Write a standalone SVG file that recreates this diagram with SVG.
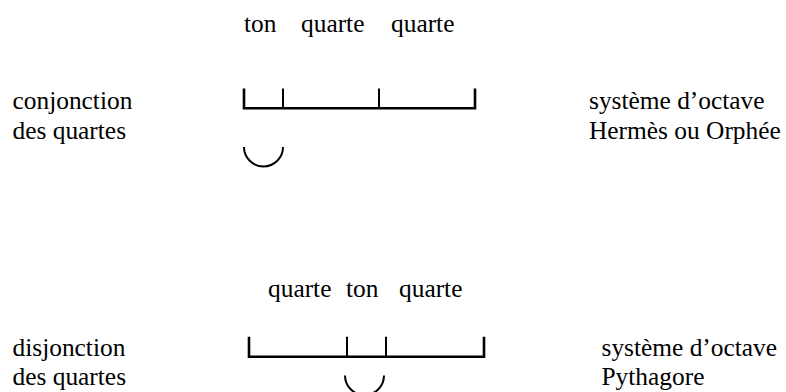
<svg xmlns="http://www.w3.org/2000/svg" width="786" height="392" viewBox="0 0 786 392">
<style>
.t{font-family:'Liberation Serif',Tinos,'DejaVu Serif',serif;font-size:25.4px;fill:#000}
.bar{fill:none;stroke:#000;stroke-width:2.6;stroke-linecap:butt;stroke-linejoin:miter}
.tick{fill:none;stroke:#000;stroke-width:2}
.arc{fill:none;stroke:#000;stroke-width:2}
</style>
<rect width="786" height="392" fill="#fff"/>
<g id="conjonction" class="t" font-family="Liberation Serif, serif">
<g id="conj-left"><text x="12.5" y="108.5">conjonction</text><text x="12.5" y="138.5">des quartes</text></g>
<g id="conj-labels"><text x="244" y="31.5">ton</text><text x="301" y="31.5">quarte</text><text x="391" y="31.5">quarte</text></g>
<g id="conj-bar"><path class="bar" d="M244 88.5V108.3H475V88.5"/><path class="tick" d="M283 88.5V108M379 88.5V108"/></g>
<g id="conj-arc"><path class="arc" d="M244 147A19.5 19.5 0 0 0 283 147"/></g>
<g id="conj-right"><text x="589" y="108.8">système d’octave</text><text x="589" y="138.5">Hermès ou Orphée</text></g>
</g>
<g id="disjonction" class="t" font-family="Liberation Serif, serif">
<g id="disj-left"><text x="12.5" y="356">disjonction</text><text x="12.5" y="384.5">des quartes</text></g>
<g id="disj-labels"><text x="268" y="297">quarte</text><text x="346" y="297">ton</text><text x="399" y="297">quarte</text></g>
<g id="disj-bar"><path class="bar" d="M249 336.7V356.7H484V336.7"/><path class="tick" d="M347 336.7V356.5M386 336.7V356.5"/></g>
<g id="disj-arc"><path class="arc" d="M345 375.5A19.5 19.5 0 0 0 384 375.5"/></g>
<g id="disj-right"><text x="601.5" y="356">système d’octave</text><text x="601.5" y="384.5">Pythagore</text></g>
</g>
<g id="connectors"></g>
</svg>
